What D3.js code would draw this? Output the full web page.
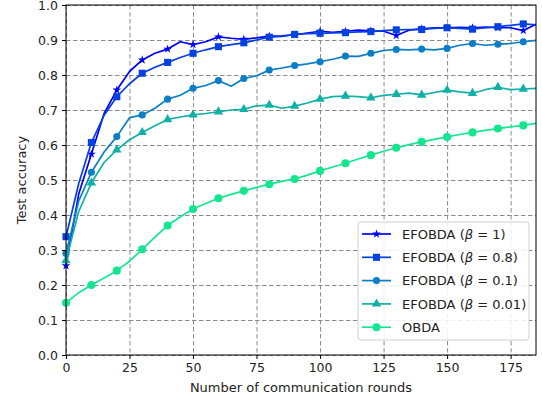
<!DOCTYPE html>
<html>
<head>
<meta charset="utf-8">
<script src="https://cdn.jsdelivr.net/npm/d3@7"></script>
<style>
    html, body { margin: 0; padding: 0; background: #fff; overflow: hidden; }
    svg { display: block; font-family: 'DejaVu Sans', sans-serif; }
</style>
</head>
<body>
<div id="chart"></div>
<script>
'use strict';

// rounds sampled every 5, markers every 10
const rounds = [0, 5, 10, 15, 20, 25, 30, 35, 40, 45, 50, 55, 60, 65, 70, 75, 80, 85, 90, 95,
    100, 105, 110, 115, 120, 125, 130, 135, 140, 145, 150, 155, 160, 165, 170, 175, 180, 185];

const beta1 = [0.255, 0.46, 0.574, 0.69, 0.757, 0.81, 0.843, 0.862, 0.874, 0.895, 0.887, 0.895, 0.909, 0.905,
    0.902, 0.906, 0.911, 0.912, 0.915, 0.92, 0.925, 0.922, 0.925, 0.928, 0.926, 0.925, 0.913, 0.928, 0.932,
    0.935, 0.935, 0.936, 0.935, 0.937, 0.935, 0.935, 0.927, 0.945];
const beta08 = [0.338, 0.49, 0.607, 0.685, 0.738, 0.775, 0.805, 0.822, 0.836, 0.85, 0.862, 0.872, 0.881, 0.887,
    0.892, 0.9, 0.908, 0.91, 0.916, 0.918, 0.919, 0.92, 0.921, 0.923, 0.924, 0.927, 0.929, 0.93, 0.93,
    0.933, 0.935, 0.933, 0.931, 0.935, 0.938, 0.942, 0.946, 0.943];
const beta01 = [0.29, 0.44, 0.522, 0.58, 0.624, 0.678, 0.686, 0.705, 0.731, 0.742, 0.762, 0.77, 0.784, 0.768,
    0.79, 0.798, 0.814, 0.82, 0.827, 0.832, 0.838, 0.845, 0.854, 0.853, 0.862, 0.87, 0.873, 0.872, 0.874,
    0.872, 0.876, 0.885, 0.89, 0.885, 0.888, 0.89, 0.895, 0.899];
const beta001 = [0.27, 0.41, 0.492, 0.55, 0.586, 0.615, 0.636, 0.655, 0.673, 0.68, 0.686, 0.69, 0.695, 0.7,
    0.702, 0.712, 0.714, 0.705, 0.711, 0.72, 0.731, 0.738, 0.74, 0.738, 0.735, 0.742, 0.745, 0.748, 0.743,
    0.75, 0.757, 0.752, 0.748, 0.758, 0.765, 0.758, 0.76, 0.762];
const obda = [0.149, 0.178, 0.2, 0.22, 0.241, 0.268, 0.302, 0.337, 0.37, 0.395, 0.417, 0.433, 0.448, 0.459,
    0.469, 0.479, 0.488, 0.496, 0.503, 0.514, 0.526, 0.537, 0.548, 0.56, 0.571, 0.582, 0.592, 0.601, 0.609,
    0.616, 0.623, 0.63, 0.636, 0.642, 0.647, 0.652, 0.656, 0.662];

const seriesNames = ['EFOBDA (β = 1)', 'EFOBDA (β = 0.8)', 'EFOBDA (β = 0.1)', 'EFOBDA (β = 0.01)', 'OBDA'];
const seriesValues = [beta1, beta08, beta01, beta001, obda];
const seriesColours = ['#0000ff', '#0540e0', '#0b7ec6', '#0fb0a6', '#14e690'];
const seriesSymbols = [d3.symbolStar, d3.symbolSquare, d3.symbolCircle, d3.symbolTriangle, d3.symbolCircle];
const symbolSizes = [24, 50, 40, 38, 52];

const xTicks = [0, 25, 50, 75, 100, 125, 150, 175];
const yTicks = [0, 0.1, 0.2, 0.3, 0.4, 0.5, 0.6, 0.7, 0.8, 0.9, 1.0];

let width = 542, height = 406;
let margins = { top: 5, right: 6, bottom: 51, left: 66 };
let innerWidth = width - margins.left - margins.right;
let innerHeight = height - margins.top - margins.bottom;

let svg = d3.select('#chart').append('svg')
    .attr('width', width)
    .attr('height', height);

let scaleX = d3.scaleLinear().domain([0, 185]).range([0, innerWidth]);
let scaleY = d3.scaleLinear().domain([0, 1]).range([innerHeight, 0]);

let plot = svg.append('g')
    .attr('transform', `translate(${margins.left}, ${margins.top})`);

// grid
let gridX = plot.append('g')
    .call(d3.axisBottom(scaleX).tickValues(xTicks).tickSize(innerHeight).tickFormat(''));
let gridY = plot.append('g')
    .call(d3.axisLeft(scaleY).tickValues(yTicks).tickSize(-innerWidth).tickFormat(''));
[gridX, gridY].forEach(g => {
    g.select('.domain').remove();
    g.selectAll('.tick text').remove();
    g.selectAll('.tick line')
        .attr('stroke', '#8a8a8a').attr('stroke-width', 1).attr('stroke-dasharray', '4.5,2.5');
});

// lines + markers
let line = d3.line()
    .x((d, i) => scaleX(rounds[i]))
    .y(d => scaleY(d));

seriesValues.forEach((values, s) => {
    plot.append('path')
        .datum(values)
        .attr('fill', 'none')
        .attr('stroke', seriesColours[s])
        .attr('stroke-width', 1.7)
        .attr('stroke-linejoin', 'round')
        .attr('d', line);

    let symbol = d3.symbol().type(seriesSymbols[s]).size(symbolSizes[s]);
    plot.selectAll(null)
        .data(values.map((v, i) => ({ r: rounds[i], v })).filter(d => d.r % 10 === 0))
        .join('path')
        .attr('transform', d => `translate(${scaleX(d.r)}, ${scaleY(d.v)})`)
        .attr('d', symbol)
        .attr('fill', seriesColours[s]);
});

// frame
plot.append('rect')
    .attr('width', innerWidth).attr('height', innerHeight)
    .attr('fill', 'none').attr('stroke', '#000').attr('stroke-width', 1);

// axes
let axisX = svg.append('g')
    .attr('transform', `translate(${margins.left}, ${margins.top + innerHeight})`)
    .call(d3.axisBottom(scaleX).tickValues(xTicks).tickSize(4).tickPadding(4));
let axisY = svg.append('g')
    .attr('transform', `translate(${margins.left}, ${margins.top})`)
    .call(d3.axisLeft(scaleY).tickValues(yTicks).tickSize(4).tickPadding(4).tickFormat(d3.format('.1f')));
[axisX, axisY].forEach(a => {
    a.attr('font-size', 12.5).attr('font-family', 'DejaVu Sans');
    a.select('.domain').remove();
    a.selectAll('text').attr('fill', '#222');
});
axisX.selectAll('text').attr('dy', 9);
axisY.selectAll('text').attr('dy', 4);

svg.append('text')
    .attr('x', margins.left + innerWidth / 2)
    .attr('y', 392)
    .attr('text-anchor', 'middle')
    .attr('font-size', 13)
    .attr('fill', '#222')
    .text('Number of communication rounds');

svg.append('text')
    .attr('transform', `translate(26, ${margins.top + innerHeight / 2}) rotate(-90)`)
    .attr('text-anchor', 'middle')
    .attr('font-size', 13)
    .attr('fill', '#222')
    .text('Test accuracy');

// legend
let legend = svg.append('g').attr('transform', 'translate(358, 222)');
legend.append('rect')
    .attr('width', 171).attr('height', 118).attr('rx', 3)
    .attr('fill', '#fff').attr('fill-opacity', 0.85)
    .attr('stroke', '#d0d0d0').attr('stroke-width', 1);

seriesNames.forEach((name, s) => {
    let rowY = 12 + s * 23.3;
    legend.append('line')
        .attr('x1', 4).attr('x2', 33).attr('y1', rowY).attr('y2', rowY)
        .attr('stroke', seriesColours[s]).attr('stroke-width', 1.7);
    legend.append('path')
        .attr('transform', `translate(18.5, ${rowY})`)
        .attr('d', d3.symbol().type(seriesSymbols[s]).size(symbolSizes[s]))
        .attr('fill', seriesColours[s]);

    let label = legend.append('text')
        .attr('x', 44).attr('y', rowY).attr('dy', 4.7)
        .attr('font-size', 13)
        .attr('fill', '#222');
    let parts = name.match(/^(.*\()β( = .*)$/);
    if (parts) {
        label.append('tspan').text(parts[1]);
        label.append('tspan').style('font-style', 'italic').text('β');
        label.append('tspan').text(parts[2]);
    } else {
        label.text(name);
    }
});
</script>
</body>
</html>
